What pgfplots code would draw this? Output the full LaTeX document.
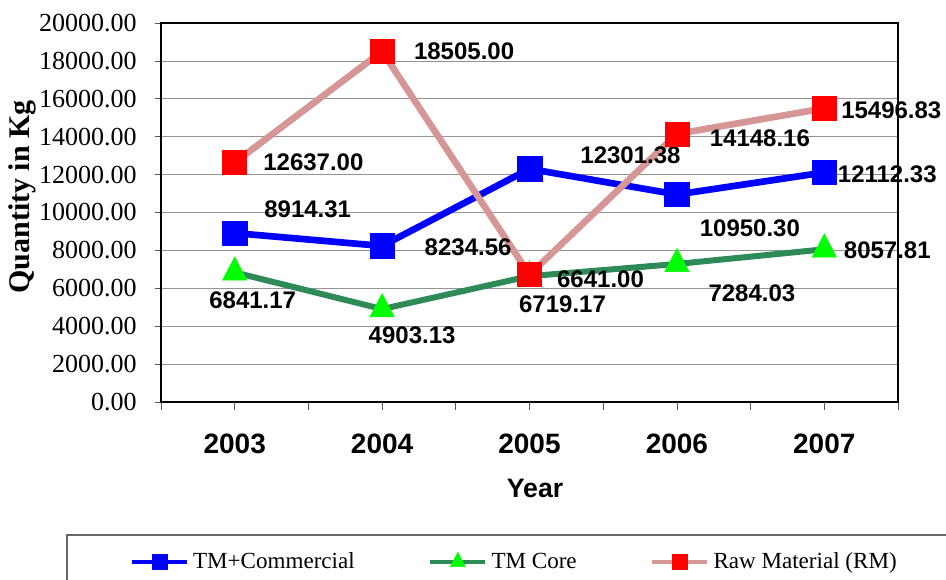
\documentclass[border=0pt]{standalone}
\usepackage{fontspec}
\setmainfont{Liberation Serif}
\newfontfamily\arialfont{Liberation Sans}
\usepackage{pgfplots}
\usepackage{pgfplotstable}
\pgfplotsset{compat=1.18}
\definecolor{tmblue}{RGB}{0,0,255}
\definecolor{coreline}{RGB}{46,139,87}
\definecolor{coremark}{RGB}{0,255,0}
\definecolor{rmline}{RGB}{214,150,150}
\definecolor{rmmark}{RGB}{255,0,0}

\pgfplotstableread{
x y lab dx dy
0 8914.31 8914.31 54.75 18
1 8234.56 8234.56 64.5 -0.75
2 12301.38 12301.38 75.75 10.5
3 10950.30 10950.30 54.75 -25.5
4 12112.33 12112.33 47.25 -1.5
}\tmcdata
\pgfplotstableread{
x y lab dx dy
0 6841.17 6841.17 13.5 -21
1 4903.13 4903.13 22.5 -19.5
2 6641.00 6641.00 53.25 -2.25
3 7284.03 7284.03 56.25 -21.75
4 8057.81 8057.81 47.25 -0.75
}\coredata
\pgfplotstableread{
x y lab dx dy
0 12637.00 12637.00 59 0
1 18505.00 18505.00 61.5 0
2 6719.17 6719.17 24.75 -22.5
3 14148.16 14148.16 62.25 -3
4 15496.83 15496.83 50.25 -1.5
}\rmdata

\begin{document}
\begin{tikzpicture}
\useasboundingbox (-120.75pt,-132.75pt) rectangle (588.75pt,301.5pt);
\clip (-120.75pt,-132.75pt) rectangle (588.75pt,301.5pt);
\begin{axis}[
  at={(0pt,0pt)}, anchor=south west,
  scale only axis, width=552.75pt, height=284.25pt,
  xmin=-0.5, xmax=4.5, ymin=0, ymax=20000,
  clip=false,
  axis line style={black, line width=1.1pt},
  ytick={0,2000,...,20000},
  scaled y ticks=false,
  tick pos=left,
  ymajorgrids, grid style={gray!85, line width=0.6pt},
  tick align=outside,
  ytick style={gray!70!black, line width=0.6pt},
  major tick length=4.5pt,
  xtick={-0.5,0.5,1.5,2.5,3.5,4.5},
  xticklabels={},
  xtick style={gray!70!black, line width=0.6pt, /pgfplots/major tick length=6pt},
  extra x ticks={0,1,2,3,4},
  extra x tick labels={2003,2004,2005,2006,2007},
  extra x tick style={major tick length=0pt, grid=none,
     xticklabel style={font=\arialfont\bfseries\fontsize{21}{21}\selectfont, anchor=base, yshift=-38.6pt}},
  yticklabel style={font=\fontsize{19.5}{19.5}\selectfont, anchor=east, inner sep=0pt, xshift=-13.5pt},
  /pgf/number format/.cd, fixed, fixed zerofill, precision=2, 1000 sep={}, assume math mode=true,
  /pgfplots/.cd,
  ylabel={Quantity in Kg},
  ylabel style={font=\bfseries\fontsize{22.5}{22.5}\selectfont, at={(axis description cs:-0.1886,0.541)}, anchor=center},
  xlabel={Year},
  xlabel style={font=\arialfont\bfseries\fontsize{20}{20}\selectfont, at={(axis description cs:0.5075,-0.227)}, anchor=center},
  legend columns=3,
  legend style={at={(axis description cs:0.4797,-0.422)}, anchor=center, draw=none, fill=none,
     font=\fontsize{17.3}{17.3}\selectfont,
     /tikz/every even column/.append style={column sep=53pt},
     /tikz/every odd column/.append style={column sep=1pt}},
  legend image code/.code={\draw[mark repeat=2,mark phase=2,#1, line width=3.6pt, every mark/.append style={scale=0.62}] plot coordinates {(0pt,0pt)(20.5pt,0pt)(41pt,0pt)};},
]
\addplot[tmblue, line width=5pt, mark=square*, mark size=9.2pt,
  mark options={fill=tmblue, draw=tmblue, line width=0.4pt},
  nodes near coords, point meta=explicit symbolic,
  visualization depends on={\thisrow{dx}\as\dx},
  visualization depends on={\thisrow{dy}\as\dy},
  every node near coord/.append style={anchor=center, xshift=\dx pt, yshift=\dy pt,
     font=\arialfont\bfseries\fontsize{18}{18}\selectfont, text=black, inner sep=0pt}]
  table[x=x, y=y, meta=lab] {\tmcdata};
\addlegendentry{TM+Commercial}
\addplot[coreline, line width=4.5pt, mark=triangle*, mark size=10.5pt,
  mark options={fill=coremark, draw=coremark, line width=0.4pt, yscale=1.1},
  nodes near coords, point meta=explicit symbolic,
  visualization depends on={\thisrow{dx}\as\dx},
  visualization depends on={\thisrow{dy}\as\dy},
  every node near coord/.append style={anchor=center, xshift=\dx pt, yshift=\dy pt,
     font=\arialfont\bfseries\fontsize{18}{18}\selectfont, text=black, inner sep=0pt}]
  table[x=x, y=y, meta=lab] {\coredata};
\addlegendentry{TM Core}
\addplot[rmline, line width=5pt, mark=square*, mark size=9pt,
  mark options={fill=rmmark, draw=rmmark, line width=0.4pt},
  nodes near coords, point meta=explicit symbolic,
  visualization depends on={\thisrow{dx}\as\dx},
  visualization depends on={\thisrow{dy}\as\dy},
  every node near coord/.append style={anchor=center, xshift=\dx pt, yshift=\dy pt,
     font=\arialfont\bfseries\fontsize{18}{18}\selectfont, text=black, inner sep=0pt}]
  table[x=x, y=y, meta=lab] {\rmdata};
\addlegendentry{Raw Material (RM)}
\end{axis}
\draw[gray!80!black, line width=0.9pt] (-70.5pt,-140pt) -- (-70.5pt,-99.75pt) -- (600pt,-99.75pt);
\end{tikzpicture}
\end{document}
